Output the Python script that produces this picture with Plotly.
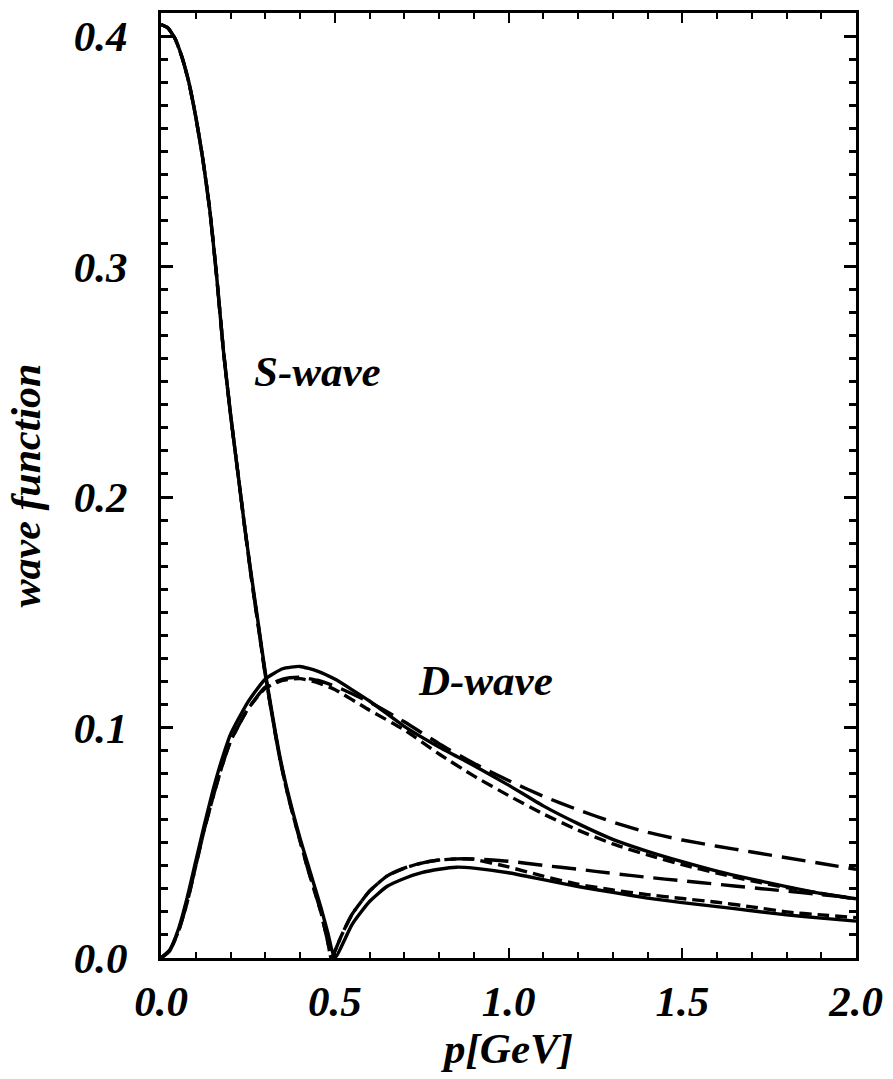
import plotly.graph_objects as go

# ---- data ----
# S-wave (|psi_S|), solid
s_solid_p = [0, 0.02, 0.04, 0.06, 0.08, 0.10, 0.12, 0.14, 0.16, 0.18, 0.20, 0.22, 0.24, 0.26, 0.28, 0.30,
             0.32, 0.34, 0.36, 0.38, 0.40, 0.42, 0.44, 0.46, 0.48, 0.50,
             0.55, 0.60, 0.65, 0.70, 0.75, 0.80, 0.85, 0.90, 1.0, 1.1, 1.2, 1.3, 1.4, 1.5, 1.6, 1.7, 1.8, 1.9, 2.0]
s_solid_v = [0.405, 0.4035, 0.399, 0.391, 0.380, 0.365, 0.347, 0.325, 0.296, 0.263, 0.236, 0.212, 0.188, 0.166, 0.145, 0.124,
             0.106, 0.089, 0.075, 0.063, 0.052, 0.042, 0.032, 0.022, 0.011, 0.0,
             0.0146, 0.0245, 0.031, 0.0345, 0.037, 0.0385, 0.0394, 0.039, 0.037, 0.034, 0.031, 0.0285, 0.026, 0.024, 0.0223, 0.0205, 0.0187, 0.0173, 0.016]

# S-wave, long dash
s_long_p = [0, 0.02, 0.04, 0.06, 0.08, 0.10, 0.12, 0.14, 0.16, 0.18, 0.20, 0.22, 0.24, 0.26, 0.28, 0.30,
            0.32, 0.34, 0.36, 0.38, 0.40, 0.42, 0.44, 0.46, 0.48, 0.49,
            0.52, 0.55, 0.60, 0.65, 0.70, 0.75, 0.80, 0.85, 0.90, 1.0, 1.1, 1.2, 1.3, 1.4, 1.5, 1.6, 1.7, 1.8, 1.9, 2.0]
s_long_v = [0.405, 0.4035, 0.399, 0.391, 0.380, 0.365, 0.347, 0.325, 0.296, 0.263, 0.236, 0.212, 0.188, 0.165, 0.144, 0.123,
            0.105, 0.088, 0.074, 0.062, 0.051, 0.040, 0.030, 0.020, 0.007, 0.0,
            0.010, 0.019, 0.029, 0.0355, 0.039, 0.0412, 0.0425, 0.043, 0.043, 0.042, 0.0402, 0.0385, 0.0367, 0.035, 0.0335, 0.032, 0.0305, 0.029, 0.0275, 0.026]

# S-wave, short dash
s_short_p = s_long_p
s_short_v = [0.405, 0.4035, 0.399, 0.391, 0.380, 0.365, 0.347, 0.325, 0.296, 0.263, 0.236, 0.212, 0.188, 0.165, 0.144, 0.123,
             0.105, 0.088, 0.074, 0.062, 0.051, 0.040, 0.030, 0.020, 0.007, 0.0,
             0.010, 0.019, 0.029, 0.0355, 0.039, 0.0412, 0.0425, 0.043, 0.0428, 0.0395, 0.0355, 0.032, 0.0295, 0.0275, 0.0258, 0.0242, 0.0222, 0.020, 0.0187, 0.0175]

# D-wave
d_p = [0, 0.025, 0.05, 0.075, 0.1, 0.125, 0.15, 0.175, 0.2, 0.25, 0.3, 0.35, 0.4, 0.45, 0.5, 0.6, 0.7, 0.8, 0.9,
       1.0, 1.1, 1.2, 1.3, 1.4, 1.5, 1.6, 1.7, 1.8, 1.9, 2.0]
d_solid_v = [0, 0.0035, 0.0125, 0.026, 0.042, 0.058, 0.073, 0.086, 0.097, 0.111, 0.121, 0.1255, 0.1265, 0.1245, 0.121, 0.1115, 0.1005, 0.0915, 0.0835,
             0.075, 0.0660, 0.0583, 0.0515, 0.0463, 0.0418, 0.0377, 0.0342, 0.031, 0.028, 0.0257]
d_long_v = [0, 0.0032, 0.0115, 0.024, 0.040, 0.056, 0.070, 0.083, 0.094, 0.108, 0.1175, 0.121, 0.1218, 0.1205, 0.118, 0.111, 0.1025, 0.093, 0.0845,
            0.077, 0.0702, 0.0643, 0.0590, 0.0545, 0.0512, 0.0485, 0.046, 0.0435, 0.041, 0.0385]
d_short_v = [0, 0.0032, 0.0115, 0.024, 0.040, 0.056, 0.070, 0.083, 0.094, 0.108, 0.117, 0.1205, 0.1212, 0.1195, 0.1165, 0.1075, 0.099, 0.0885, 0.079,
             0.0705, 0.0625, 0.0555, 0.0495, 0.0447, 0.0405, 0.0368, 0.0335, 0.0305, 0.028, 0.0255]

x_tickvals = [0.0, 0.5, 1.0, 1.5, 2.0]
x_ticktext = ["0.0", "0.5", "1.0", "1.5", "2.0"]
y_tickvals = [0.0, 0.1, 0.2, 0.3, 0.4]
y_ticktext = ["0.0", "0.1", "0.2", "0.3", "0.4"]

FONT = "Liberation Serif"
LW = 3.4
LONG = "24px,10px"
SHORT = "12px,6px"

fig = go.Figure()

def add(px, pv, dash):
    fig.add_trace(go.Scatter(x=px, y=pv, mode="lines",
                             line=dict(color="black", width=LW, dash=dash, shape="spline", smoothing=0.5),
                             showlegend=False, hoverinfo="skip"))

add(d_p, d_long_v, LONG)
add(d_p, d_short_v, SHORT)
add(d_p, d_solid_v, "solid")
add(s_long_p, s_long_v, LONG)
add(s_short_p, s_short_v, SHORT)
add(s_solid_p, s_solid_v, "solid")

def bfont(size):
    return dict(family=FONT, size=size, color="black", weight="bold", style="italic")

fig.update_layout(
    width=893, height=1079,
    margin=dict(l=161, r=31, t=10, b=121),
    paper_bgcolor="white", plot_bgcolor="white",
    showlegend=False,
    xaxis=dict(range=[0, 2], tickvals=x_tickvals, ticktext=x_ticktext,
               ticks="inside", ticklen=10, tickwidth=1.5, tickcolor="black",
               minor=dict(dtick=0.1, tick0=0, ticks="inside", ticklen=6, tickwidth=1.5, tickcolor="black"),
               showline=True, linewidth=3, linecolor="black", mirror="allticks",
               showgrid=False, zeroline=False, tickfont=bfont(43), ticklabelstandoff=3,
               title=dict(text="p[GeV]", font=bfont(43), standoff=8)),
    yaxis=dict(range=[0, 0.41], tickvals=y_tickvals, ticktext=y_ticktext,
               ticks="inside", ticklen=12, tickwidth=3, tickcolor="black",
               minor=dict(dtick=0.01, tick0=0, ticks="inside", ticklen=7, tickwidth=3, tickcolor="black"),
               showline=True, linewidth=3, linecolor="black", mirror="allticks",
               showgrid=False, zeroline=False, tickfont=bfont(43), ticklabelstandoff=22,
               title=dict(text="wave function", font=bfont(42), standoff=20)),
    annotations=[
        dict(x=0.451, y=0.2545, xref="x", yref="y", text="S-wave", showarrow=False, font=bfont(43)),
        dict(x=0.933, y=0.1203, xref="x", yref="y", text="D-wave", showarrow=False, font=bfont(43)),
    ],
)

fig.write_html("out.html", config={"displayModeBar": False},
               post_script="document.body.style.margin='0px';document.body.style.overflow='hidden';")
